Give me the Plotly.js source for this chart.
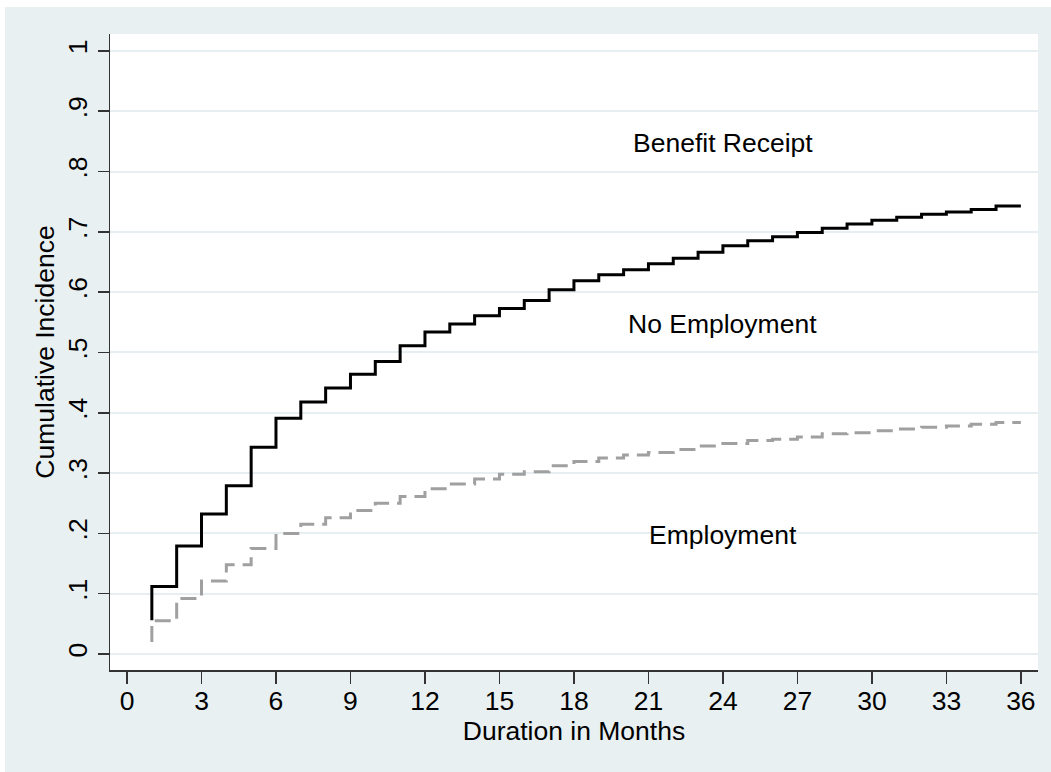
<!DOCTYPE html>
<html>
<head>
<meta charset="utf-8">
<script src="https://cdn.plot.ly/plotly-3.0.1.min.js"></script>
<style>
  html, body { margin: 0; padding: 0; background: #ffffff; width: 1051px; height: 772px; overflow: hidden; }
  #chart { position: absolute; left: 5px; top: 7px; width: 1046px; height: 765px; }
</style>
</head>
<body>
<div id="chart"></div>
<script>
// Months at which the step functions change
const months = [1,2,3,4,5,6,7,8,9,10,11,12,13,14,15,16,17,18,19,20,21,22,23,24,25,26,27,28,29,30,31,32,33,34,35,36];

// Cumulative incidence: No Employment (solid black)
const noEmpStart = 0.056;
const noEmployment = [0.112,0.179,0.232,0.279,0.343,0.391,0.418,0.441,0.464,0.485,
                      0.511,0.534,0.547,0.561,0.573,0.586,0.604,0.619,0.629,0.637,
                      0.647,0.656,0.666,0.677,0.685,0.692,0.699,0.706,0.713,0.719,
                      0.724,0.729,0.733,0.737,0.743,0.743];

// Cumulative incidence: Employment (dashed grey)
const empStart = 0.020;
const employment = [0.055,0.092,0.121,0.148,0.175,0.200,0.215,0.226,0.238,0.250,
                    0.261,0.274,0.282,0.290,0.298,0.302,0.312,0.319,0.325,0.330,
                    0.334,0.339,0.345,0.349,0.354,0.356,0.360,0.365,0.367,0.370,
                    0.373,0.376,0.378,0.381,0.384,0.384];

// Text labels placed on the chart
const labelTexts = ["Benefit Receipt", "No Employment", "Employment"];
const labelX = [24, 24, 24];
const labelY = [0.847, 0.547, 0.197];

// Axis ticks
const xTicks = [0,3,6,9,12,15,18,21,24,27,30,33,36];
const yTicks = [0,0.1,0.2,0.3,0.4,0.5,0.6,0.7,0.8,0.9,1];
const yTickText = ["0",".1",".2",".3",".4",".5",".6",".7",".8",".9","1"];

const FONT = "'Liberation Sans', Arial, Helvetica, sans-serif";
const BG = "#e9f0f2";
const FS = 26.5;

const traces = [
  {
    x: [months[0]].concat(months),
    y: [noEmpStart].concat(noEmployment),
    type: "scatter", mode: "lines",
    line: { shape: "hv", color: "#000000", width: 3 },
    hoverinfo: "skip", showlegend: false
  },
  {
    x: [months[0]].concat(months),
    y: [empStart].concat(employment),
    type: "scatter", mode: "lines",
    line: { shape: "hv", color: "#a0a0a0", width: 3, dash: "16px,8px" },
    hoverinfo: "skip", showlegend: false
  }
];

const annotations = labelTexts.map((t, i) => ({
  x: labelX[i], y: labelY[i], xref: "x", yref: "y",
  text: t, showarrow: false,
  font: { family: FONT, size: FS, color: "#000000" },
  xanchor: "center", yanchor: "middle"
}));

const layout = {
  width: 1046, height: 765,
  margin: { l: 105, r: 13, t: 27, b: 102 },
  paper_bgcolor: BG,
  plot_bgcolor: "#ffffff",
  font: { family: FONT, size: FS, color: "#000000" },
  showlegend: false,
  xaxis: {
    range: [-0.685, 36.69],
    tickmode: "array", tickvals: xTicks, ticktext: xTicks.map(String),
    ticks: "outside", ticklen: 12, tickwidth: 1.5, tickcolor: "#333333",
    ticklabelstandoff: -5,
    showline: true, linecolor: "#333333", linewidth: 1.5,
    showgrid: false, zeroline: false,
    tickfont: { family: FONT, size: FS, color: "#000000" },
    title: { text: "Duration in Months", font: { family: FONT, size: FS, color: "#000000" }, standoff: 2 }
  },
  yaxis: {
    range: [-0.0265, 1.028],
    tickmode: "array", tickvals: yTicks, ticktext: yTickText,
    tickangle: -90,
    ticks: "outside", ticklen: 11, tickwidth: 1.5, tickcolor: "#333333",
    showline: true, linecolor: "#333333", linewidth: 1.5,
    showgrid: true, gridcolor: "#e6eef1", gridwidth: 2,
    zeroline: false,
    tickfont: { family: FONT, size: FS, color: "#000000" },
    title: { text: "Cumulative Incidence", font: { family: FONT, size: FS, color: "#000000" }, standoff: 0 }
  },
  annotations: annotations
};

Plotly.newPlot("chart", traces, layout, { displayModeBar: false, staticPlot: true });
</script>
</body>
</html>
